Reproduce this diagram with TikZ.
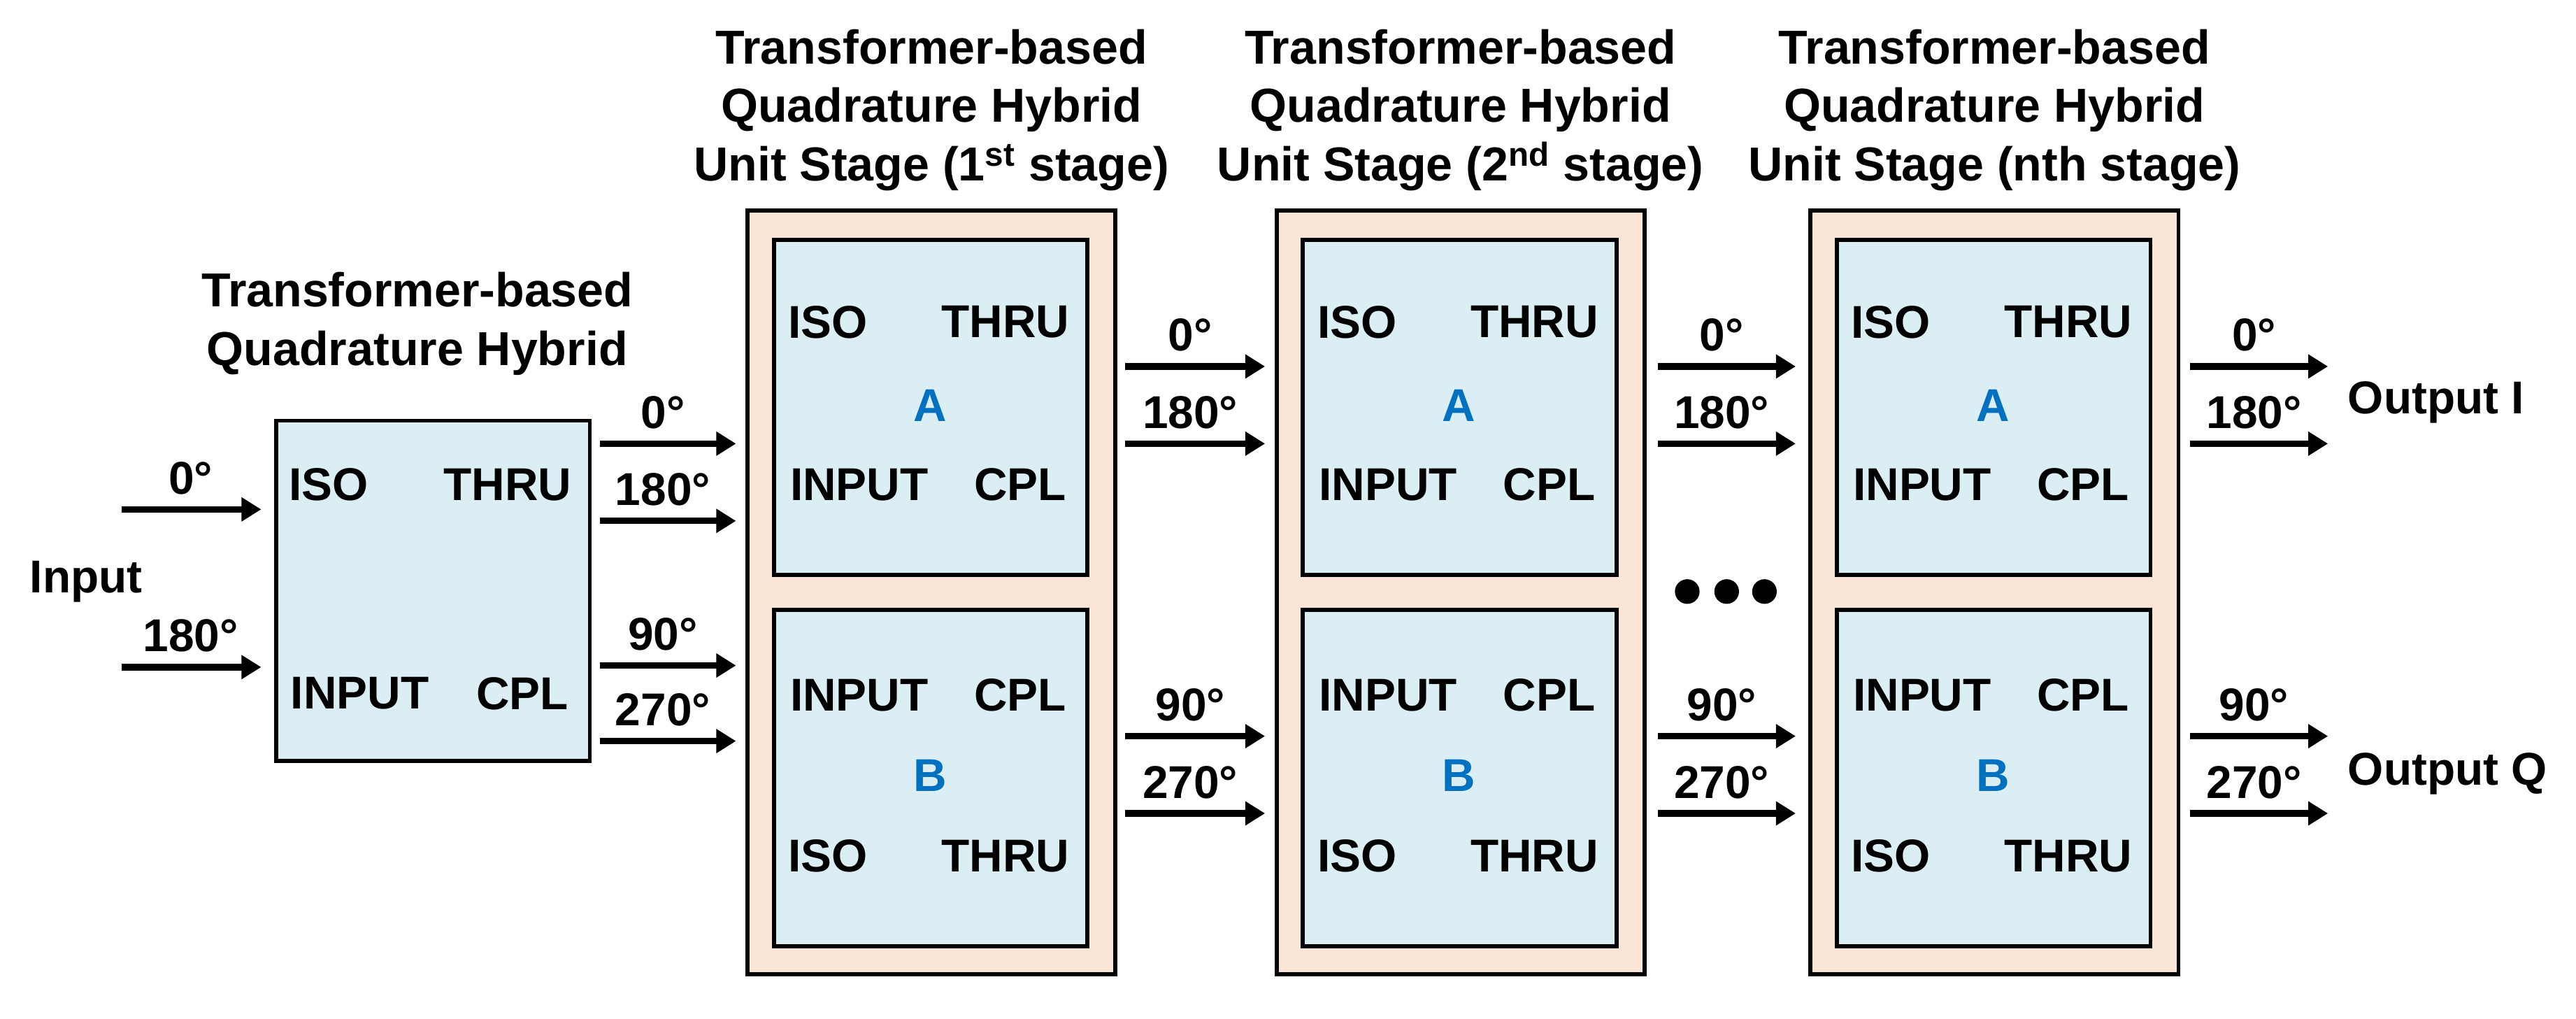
\documentclass[tikz,border=0pt]{standalone}
\usepackage{fontspec}
\setmainfont{Liberation Sans}
\usetikzlibrary{arrows.meta}
\definecolor{boxblue}{HTML}{DAEEF3}
\definecolor{peach}{HTML}{FBE5D6}
\definecolor{letterblue}{HTML}{0070C0}
\tikzset{lbl/.style={font=\fontsize{28}{30}\selectfont\bfseries,inner sep=0pt},
         ttl/.style={font=\fontsize{29}{35.5}\selectfont\bfseries,align=center,inner sep=0pt},
         letter/.style={lbl,text=letterblue},
         arr/.style={line width=4pt,-{Triangle[length=12pt,width=14pt]}},
         hybrid/.style={draw,line width=2.5pt,fill=boxblue},
         stagebox/.style={draw,line width=2.5pt,fill=peach}
}

\begin{document}
\begin{tikzpicture}[x=1pt,y=-1pt]
  \useasboundingbox (0,0) rectangle (1568,620);
  % first hybrid
  \draw[hybrid](168,256)rectangle(359,463);
  \node[lbl] (hiso) at (200,295){ISO};
  \node[lbl] (hthru) at (309,295){THRU};
  \node[lbl] (hin) at (219,422){INPUT};
  \node[lbl] (hcpl) at (318,422){CPL};
  \node[ttl] (htitle) at (254,197){Transformer-based\\Quadrature Hybrid};
  \node[lbl,anchor=west] (input) at (18,354){Input};
  \foreach\y/\d in {310/0,406/180}{
     \coordinate (i\y) at (74,\y); \coordinate (j\y) at (159,\y);
     \draw[arr](i\y)--(j\y);
     \node[lbl] at (116,\y-19){\d°};
  }
  % stages
  \foreach\x/\n/\s in {455/1/1\textsuperscript{st} stage,777/2/2\textsuperscript{nd} stage,1102/3/nth stage}{
     \draw[stagebox](\x,128)rectangle(\x+224,593);
     \draw[hybrid](\x+16,146)rectangle(\x+207,350);
     \draw[hybrid](\x+16,371)rectangle(\x+207,576);
     \node[lbl] at (\x+49,196){ISO};
     \node[lbl] at (\x+157,196){THRU};
     \node[letter] at (\x+111,247){A};
     \node[lbl] at (\x+68,295){INPUT};
     \node[lbl] at (\x+166,295){CPL};
     \node[lbl] at (\x+68,423){INPUT};
     \node[lbl] at (\x+166,423){CPL};
     \node[letter] at (\x+111,472){B};
     \node[lbl] at (\x+49,521){ISO};
     \node[lbl] at (\x+157,521){THRU};
     \node[ttl] (t\n) at (\x+112,67){Transformer-based\\Quadrature Hybrid\\Unit Stage (\s)};
  }
  % connectors
  \foreach\xa/\xb/\y/\d in {365/448/270/0,365/448/317/180,365/448/405/90,365/448/451/270,
     685/770/223/0,685/770/270/180,685/770/448/90,685/770/495/270,
     1009/1093/223/0,1009/1093/270/180,1009/1093/448/90,1009/1093/495/270,
     1333/1417/223/0,1333/1417/270/180,1333/1417/448/90,1333/1417/495/270}{
     \coordinate (a\xa\y) at (\xa,\y); \coordinate (b\xa\y) at (\xb,\y);
     \draw[arr](a\xa\y)--(b\xa\y);
     \node[lbl] at ({(\xa+\xb)/2-3},\y-19){\d°};
  }
  \node[lbl,anchor=west] (outi) at (1429,245){Output I};
  \node[lbl,anchor=west] (outq) at (1429,471){Output Q};
  \foreach\x in {1027,1051,1074}\fill(\x,360)circle(7.5);
\end{tikzpicture}
\end{document}
